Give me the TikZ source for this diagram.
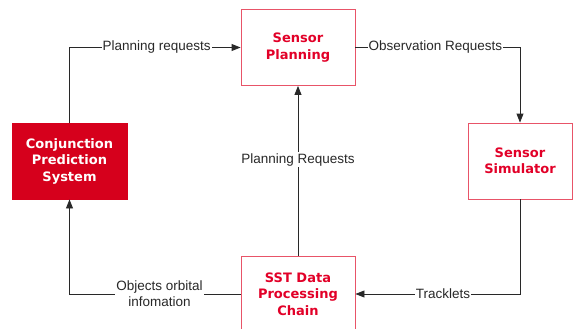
\documentclass[tikz,border=0pt]{standalone}
\usepackage{fontspec}
\setmainfont{Liberation Sans}
\newfontfamily\boxfont{DejaVu Sans}
\usetikzlibrary{arrows.meta}
\definecolor{redtxt}{RGB}{226,0,40}
\definecolor{redfill}{RGB}{214,0,28}
\definecolor{redline}{RGB}{232,84,104}
\definecolor{linegray}{RGB}{40,40,40}
\tikzset{
  wbox/.style={draw=redline, line width=0.9pt, fill=white, minimum width=114pt, minimum height=76pt,
    align=center, text=redtxt, font=\boxfont\bfseries\fontsize{13}{16.5}\selectfont, inner sep=0pt},
  fbox/.style={wbox, draw=redfill, fill=redfill, text=white},
  conn/.style={draw=linegray, line width=0.9pt, -{Triangle[length=9pt,width=7pt]}},
  lbl/.style={fill=white, text=linegray, font=\fontsize{13.5}{16}\selectfont, inner sep=1pt, align=center},
}
\begin{document}
\begin{tikzpicture}[x=1pt,y=-1pt]
\useasboundingbox (0,0) rectangle (573,329);
\begin{scope}
\clip (0,0) rectangle (573,329);
\node[wbox] (sp) at (298,47.5) {Sensor\\Planning};
\node[fbox, minimum width=115pt] (cps) at (69.5,161) {Conjunction\\Prediction\\System};
\node[wbox, minimum width=104pt] (sim) at (520,161) {Sensor\\Simulator};
\node[wbox] (sst) at (298,294) {SST Data\\Processing\\Chain};
\end{scope}
\draw[conn] (cps.north) |- node[lbl, pos=0.755] {Planning requests} (sp.west);
\draw[conn] (sp.east) -| node[lbl, pos=0.243] {Observation Requests} (sim.north);
\draw[conn] (sst.north) -- node[lbl, pos=0.565] {Planning Requests} (sp.south);
\draw[conn] (sim.south) |- node[lbl, pos=0.734] {Tracklets} (sst.east);
\draw[conn] (sst.west) -| node[lbl, pos=0.237] {Objects orbital\\infomation} (cps.south);
\end{tikzpicture}
\end{document}
